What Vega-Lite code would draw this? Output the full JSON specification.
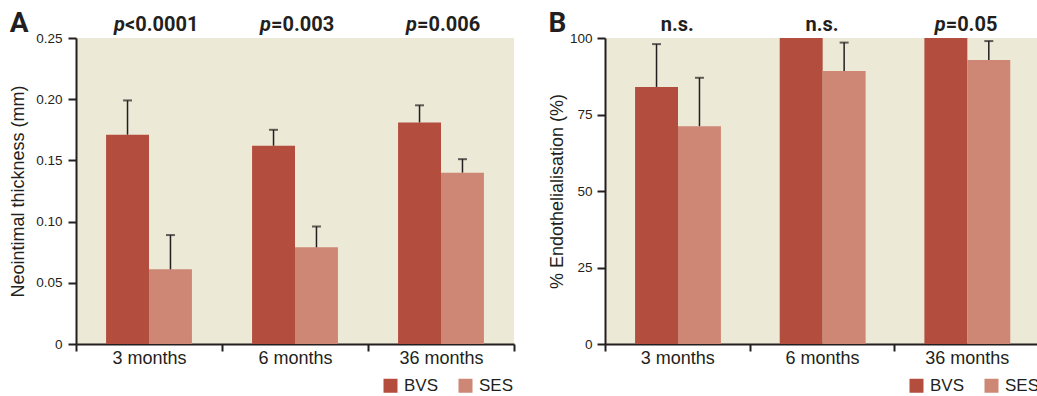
{
  "$schema": "https://vega.github.io/schema/vega-lite/v6.json",
  "padding": {"left": 9, "top": 10, "right": 0, "bottom": 0},
  "spacing": 33,
  "datasets": {
    "bars": [
      {"panel": "A", "period": "3 months", "group": "BVS", "value": 0.171, "upper": 0.199},
      {"panel": "A", "period": "3 months", "group": "SES", "value": 0.061, "upper": 0.089},
      {"panel": "A", "period": "6 months", "group": "BVS", "value": 0.162, "upper": 0.175},
      {"panel": "A", "period": "6 months", "group": "SES", "value": 0.079, "upper": 0.096},
      {"panel": "A", "period": "36 months", "group": "BVS", "value": 0.181, "upper": 0.195},
      {"panel": "A", "period": "36 months", "group": "SES", "value": 0.140, "upper": 0.151},
      {"panel": "B", "period": "3 months", "group": "BVS", "value": 84.0, "upper": 98.0},
      {"panel": "B", "period": "3 months", "group": "SES", "value": 71.2, "upper": 87.0},
      {"panel": "B", "period": "6 months", "group": "BVS", "value": 100, "upper": 100},
      {"panel": "B", "period": "6 months", "group": "SES", "value": 89.2, "upper": 98.5},
      {"panel": "B", "period": "36 months", "group": "BVS", "value": 100, "upper": 100},
      {"panel": "B", "period": "36 months", "group": "SES", "value": 92.8, "upper": 99.0}
    ],
    "labels": [
      {"panel": "A", "period": "3 months", "p": "p", "rest": "<0.0001"},
      {"panel": "A", "period": "6 months", "p": "p", "rest": "=0.003"},
      {"panel": "A", "period": "36 months", "p": "p", "rest": "=0.006"},
      {"panel": "B", "period": "3 months", "p": "", "rest": "n.s."},
      {"panel": "B", "period": "6 months", "p": "", "rest": "n.s."},
      {"panel": "B", "period": "36 months", "p": "p", "rest": "=0.05"}
    ]
  },
  "hconcat": [
    {
      "width": 438,
      "height": 306,
      "title": {"text": "A", "anchor": "start", "frame": "bounds", "fontSize": 28, "font": "Roboto", "fontWeight": "bold", "color": "#231F20", "offset": -23},
      "layer": [
        {
          "data": {"name": "bars"},
          "transform": [{"filter": "datum.panel == 'A'"}],
          "mark": {"type": "bar"},
          "encoding": {
            "x": {"field": "period", "type": "nominal", "sort": ["3 months", "6 months", "36 months"], "scale": {"paddingInner": 0, "paddingOuter": 0},
              "axis": {"title": null, "labelAngle": 0, "tickBand": "extent", "labelFontSize": 18, "labelFont": "Liberation Sans", "labelColor": "#231F20", "tickSize": 7, "tickWidth": 2, "tickColor": "#231F20", "domainWidth": 2, "domainColor": "#231F20", "labelPadding": -2}},
            "xOffset": {"field": "group", "type": "nominal", "scale": {"paddingInner": 0, "paddingOuter": 0.7}},
            "y": {"field": "value", "type": "quantitative", "scale": {"domain": [0, 0.25], "nice": false},
              "axis": {"title": "Neointimal thickness (mm)", "titleFont": "Liberation Sans", "titleFontSize": 18, "titleFontWeight": "normal", "titleColor": "#231F20", "titlePadding": 8, "values": [0, 0.05, 0.1, 0.15, 0.2, 0.25], "labelExpr": "datum.value == 0 ? '0' : format(datum.value, '.2f')", "grid": false, "labelFont": "Liberation Sans", "labelFontSize": 13.5, "labelColor": "#231F20", "labelPadding": 6, "tickSize": 8, "tickWidth": 2, "tickColor": "#231F20", "domainWidth": 2, "domainColor": "#231F20"}},
            "color": {"field": "group", "type": "nominal", "scale": {"domain": ["BVS", "SES"], "range": ["#B34E3E", "#CD8774"]},
              "legend": {"orient": "none", "legendX": 306, "legendY": 339, "direction": "horizontal", "title": null, "symbolType": "square", "symbolSize": 196, "symbolStrokeWidth": 0, "symbolOpacity": 1, "labelFontSize": 17, "labelFont": "Liberation Sans", "labelColor": "#231F20", "columnPadding": 18, "labelOffset": 5}}
          }
        },
        {
          "data": {"name": "bars"},
          "transform": [{"filter": "datum.panel == 'A'"}],
          "mark": {"type": "rule", "color": "#231F20", "strokeWidth": 1.5},
          "encoding": {
            "x": {"field": "period", "type": "nominal", "sort": ["3 months", "6 months", "36 months"]},
            "xOffset": {"field": "group", "type": "nominal"},
            "y": {"field": "value", "type": "quantitative"},
            "y2": {"field": "upper"}
          }
        },
        {
          "data": {"name": "bars"},
          "transform": [{"filter": "datum.panel == 'A'"}],
          "mark": {"type": "tick", "color": "#231F20", "size": 9, "thickness": 2, "orient": "horizontal"},
          "encoding": {
            "x": {"field": "period", "type": "nominal", "sort": ["3 months", "6 months", "36 months"]},
            "xOffset": {"field": "group", "type": "nominal"},
            "y": {"field": "upper", "type": "quantitative"}
          }
        },
        {
          "data": {"name": "labels"},
          "transform": [{"filter": "datum.panel == 'A' && datum.p != ''"}],
          "mark": {"type": "text", "font": "Roboto", "fontSize": 20, "fontWeight": "bold", "fontStyle": "italic", "align": "right", "baseline": "alphabetic", "dx": -24, "dy": -7, "color": "#231F20"},
          "encoding": {
            "x": {"field": "period", "type": "nominal", "sort": ["3 months", "6 months", "36 months"]},
            "y": {"datum": 0.25, "type": "quantitative"},
            "text": {"field": "p"}
          }
        },
        {
          "data": {"name": "labels"},
          "transform": [{"filter": "datum.panel == 'A' && datum.p != ''"}],
          "mark": {"type": "text", "font": "Roboto", "fontSize": 20, "fontWeight": "bold", "align": "left", "baseline": "alphabetic", "dx": -24, "dy": -7, "color": "#231F20"},
          "encoding": {
            "x": {"field": "period", "type": "nominal", "sort": ["3 months", "6 months", "36 months"]},
            "y": {"datum": 0.25, "type": "quantitative"},
            "text": {"field": "rest"}
          }
        }
      ]
    },
    {
      "width": 434,
      "height": 306,
      "title": {"text": "B", "anchor": "start", "frame": "bounds", "fontSize": 28, "font": "Roboto", "fontWeight": "bold", "color": "#231F20", "offset": -23},
      "layer": [
        {
          "data": {"name": "bars"},
          "transform": [{"filter": "datum.panel == 'B'"}],
          "mark": {"type": "bar"},
          "encoding": {
            "x": {"field": "period", "type": "nominal", "sort": ["3 months", "6 months", "36 months"], "scale": {"paddingInner": 0, "paddingOuter": 0},
              "axis": {"title": null, "labelAngle": 0, "tickBand": "extent", "labelFontSize": 18, "labelFont": "Liberation Sans", "labelColor": "#231F20", "tickSize": 7, "tickWidth": 2, "tickColor": "#231F20", "domainWidth": 2, "domainColor": "#231F20", "labelPadding": -2}},
            "xOffset": {"field": "group", "type": "nominal", "scale": {"paddingInner": 0, "paddingOuter": 0.7}},
            "y": {"field": "value", "type": "quantitative", "scale": {"domain": [0, 100], "nice": false},
              "axis": {"title": "% Endothelialisation (%)", "titleFont": "Liberation Sans", "titleFontSize": 18, "titleFontWeight": "normal", "titleColor": "#231F20", "titlePadding": 3, "values": [0, 25, 50, 75, 100], "grid": false, "labelFont": "Liberation Sans", "labelFontSize": 13.5, "labelColor": "#231F20", "labelPadding": 5, "tickSize": 8, "tickWidth": 2, "tickColor": "#231F20", "domainWidth": 2, "domainColor": "#231F20"}},
            "color": {"field": "group", "type": "nominal", "scale": {"domain": ["BVS", "SES"], "range": ["#B34E3E", "#CD8774"]},
              "legend": {"orient": "none", "legendX": 303, "legendY": 339, "direction": "horizontal", "title": null, "symbolType": "square", "symbolSize": 196, "symbolStrokeWidth": 0, "symbolOpacity": 1, "labelFontSize": 17, "labelFont": "Liberation Sans", "labelColor": "#231F20", "columnPadding": 18, "labelOffset": 5}}
          }
        },
        {
          "data": {"name": "bars"},
          "transform": [{"filter": "datum.panel == 'B' && datum.upper > datum.value"}],
          "mark": {"type": "rule", "color": "#231F20", "strokeWidth": 1.5},
          "encoding": {
            "x": {"field": "period", "type": "nominal", "sort": ["3 months", "6 months", "36 months"]},
            "xOffset": {"field": "group", "type": "nominal"},
            "y": {"field": "value", "type": "quantitative"},
            "y2": {"field": "upper"}
          }
        },
        {
          "data": {"name": "bars"},
          "transform": [{"filter": "datum.panel == 'B' && datum.upper > datum.value"}],
          "mark": {"type": "tick", "color": "#231F20", "size": 9, "thickness": 2, "orient": "horizontal"},
          "encoding": {
            "x": {"field": "period", "type": "nominal", "sort": ["3 months", "6 months", "36 months"]},
            "xOffset": {"field": "group", "type": "nominal"},
            "y": {"field": "upper", "type": "quantitative"}
          }
        },
        {
          "data": {"name": "labels"},
          "transform": [{"filter": "datum.panel == 'B' && datum.p != ''"}],
          "mark": {"type": "text", "font": "Roboto", "fontSize": 20, "fontWeight": "bold", "fontStyle": "italic", "align": "right", "baseline": "alphabetic", "dx": -21, "dy": -7, "color": "#231F20"},
          "encoding": {
            "x": {"field": "period", "type": "nominal", "sort": ["3 months", "6 months", "36 months"]},
            "y": {"datum": 100, "type": "quantitative"},
            "text": {"field": "p"}
          }
        },
        {
          "data": {"name": "labels"},
          "transform": [{"filter": "datum.panel == 'B' && datum.p != ''"}],
          "mark": {"type": "text", "font": "Roboto", "fontSize": 20, "fontWeight": "bold", "align": "left", "baseline": "alphabetic", "dx": -21, "dy": -7, "color": "#231F20"},
          "encoding": {
            "x": {"field": "period", "type": "nominal", "sort": ["3 months", "6 months", "36 months"]},
            "y": {"datum": 100, "type": "quantitative"},
            "text": {"field": "rest"}
          }
        },
        {
          "data": {"name": "labels"},
          "transform": [{"filter": "datum.panel == 'B' && datum.p == ''"}],
          "mark": {"type": "text", "font": "Roboto", "fontSize": 20, "fontWeight": "bold", "align": "center", "baseline": "alphabetic", "dy": -7, "color": "#231F20"},
          "encoding": {
            "x": {"field": "period", "type": "nominal", "sort": ["3 months", "6 months", "36 months"]},
            "y": {"datum": 100, "type": "quantitative"},
            "text": {"field": "rest"}
          }
        }
      ]
    }
  ],
  "resolve": {"scale": {"color": "independent"}, "legend": {"color": "independent"}},
  "config": {
    "font": "Liberation Sans",
    "view": {"fill": "#ECE9D6", "stroke": null},
    "background": "#FFFFFF"
  }
}
